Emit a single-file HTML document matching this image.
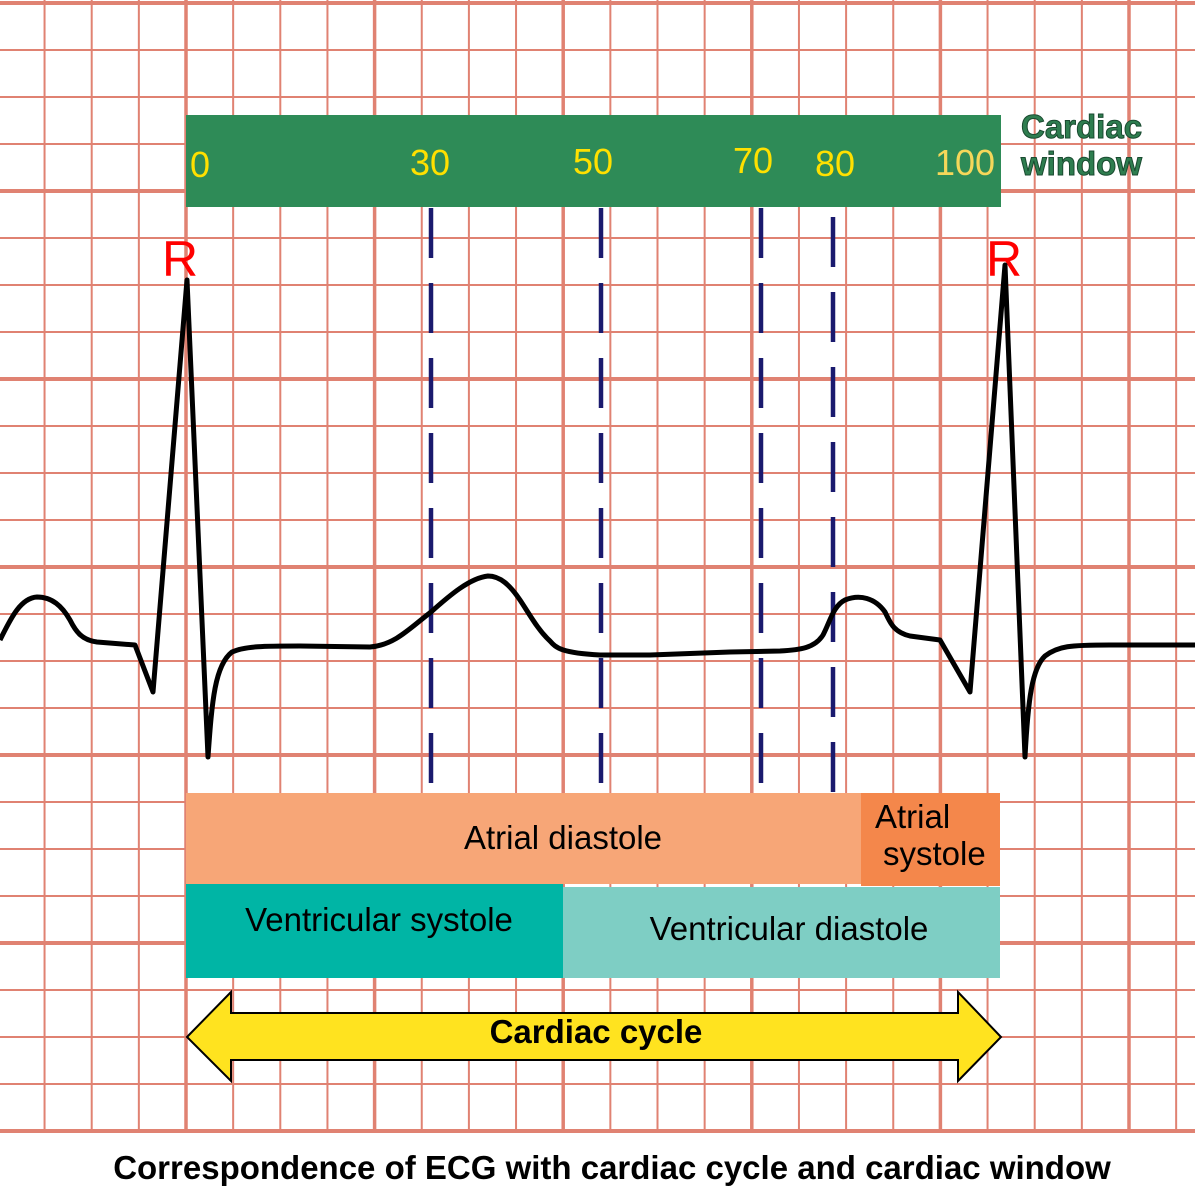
<!DOCTYPE html>
<html><head><meta charset="utf-8"><style>
html,body{margin:0;padding:0;background:#fff;}
svg{display:block;}
</style></head><body>
<svg width="1195" height="1200" viewBox="0 0 1195 1200" xmlns="http://www.w3.org/2000/svg" font-family="Liberation Sans, Arial, sans-serif">
<rect width="1195" height="1200" fill="#fff"/>
<g stroke="#e08272" id="grid">
</g>
<script>
(function(){
var g=document.getElementById('grid'),ns='http://www.w3.org/2000/svg';
var c=47.15;
for(var k=-4;k<=22;k++){var x=186+k*c; if(x<-3||x>1198)continue;
 var l=document.createElementNS(ns,'line');l.setAttribute('x1',x);l.setAttribute('x2',x);l.setAttribute('y1',0);l.setAttribute('y2',1133);
 l.setAttribute('stroke-width',(k%4==0)?3.5:2);g.appendChild(l);}
for(var j=0;j<=24;j++){var y=3+j*47; if(y>1133)continue;
 var l=document.createElementNS(ns,'line');l.setAttribute('y1',y);l.setAttribute('y2',y);l.setAttribute('x1',0);l.setAttribute('x2',1195);
 l.setAttribute('stroke-width',(j%4==0)?4:2);g.appendChild(l);}
})();
</script>
<rect x="186" y="115" width="815" height="92" fill="#2e8b57"/>
<g fill="#ffe000" font-size="36">
<text x="190" y="177">0</text>
<text x="410" y="175">30</text>
<text x="573" y="174">50</text>
<text x="733" y="173">70</text>
<text x="815" y="176">80</text>
<text x="935" y="175" fill="#f5d75a">100</text>
</g>
<g font-size="33" font-weight="bold" fill="#2e7d4f" stroke="#1a4a30" stroke-width="1">
<text x="1021" y="138">Cardiac</text>
<text x="1021" y="175">window</text>
</g>
<g fill="#ff0000" font-size="50"><text x="162" y="276">R</text><text x="986" y="276">R</text></g>
<g stroke="#1a1a6e" stroke-width="4.5" stroke-dasharray="50 25">
<line x1="431" y1="208" x2="431" y2="783"/>
<line x1="601" y1="208" x2="601" y2="783"/>
<line x1="761" y1="208" x2="761" y2="783"/>
<line x1="833" y1="217" x2="833" y2="792"/>
</g>
<path d="M0,640 C10,620 20,598 37,597 C52,597 62,606 70,620 C76,632 82,640 97,642 L135,645 L153,692 L187,280 L208,757 C212,700 215,665 232,652 C245,646 265,646 300,646 L370,647 C395,645 410,628 431,612 C450,595 470,578 488,576 C500,576 510,585 520,600 C530,615 538,630 550,641 C556,648 562,653 600,655 L650,655 L730,652 L780,651 C800,650 815,648 823,635 C830,622 833,606 845,600 C860,594 875,598 885,612 C890,622 893,632 910,636 L940,640 L970,692 L1005,265 L1025,757 C1028,700 1032,668 1045,656 C1058,646 1070,645 1110,645 L1195,645" fill="none" stroke="#000" stroke-width="5" stroke-linejoin="round"/>
<rect x="186" y="793" width="675" height="91" fill="#f7a677"/>
<rect x="861" y="793" width="139" height="93" fill="#f4874b"/>
<rect x="186" y="884" width="377" height="94" fill="#00b5a5"/>
<rect x="563" y="887" width="437" height="91" fill="#7ecec4"/>
<g font-size="33" fill="#000">
<text x="563" y="849" text-anchor="middle">Atrial diastole</text>
<text x="875" y="828">Atrial</text>
<text x="883" y="865">systole</text>
<text x="379" y="931" text-anchor="middle">Ventricular systole</text>
<text x="789" y="940" text-anchor="middle">Ventricular diastole</text>
</g>
<polygon points="187,1037 231,992 231,1013 958,1013 958,992 1001,1037 958,1081 958,1060 231,1060 231,1081" fill="#ffe31f" stroke="#000" stroke-width="2"/>
<text x="596" y="1043" text-anchor="middle" font-size="33" font-weight="bold">Cardiac cycle</text>
<text x="612" y="1179" text-anchor="middle" font-size="33" font-weight="bold">Correspondence of ECG with cardiac cycle and cardiac window</text>
</svg>
</body></html>
